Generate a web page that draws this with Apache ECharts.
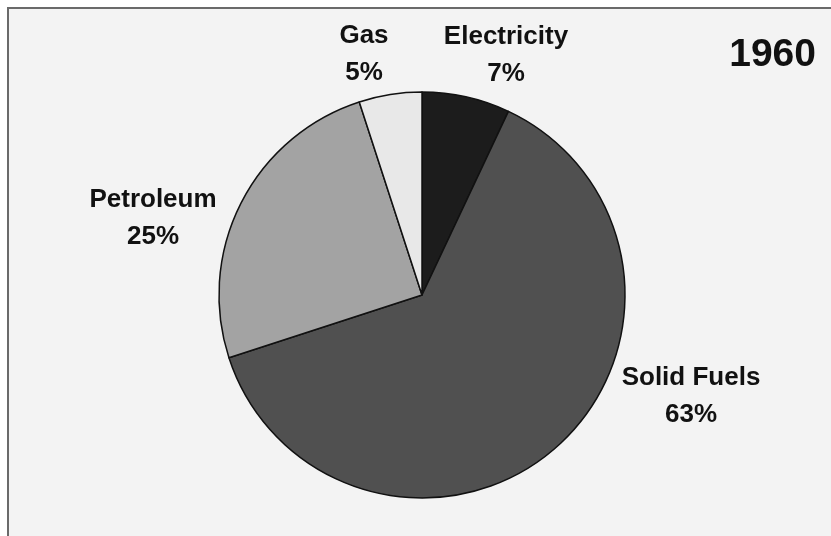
<!DOCTYPE html>
<html>
<head>
<meta charset="utf-8">
<script src="https://cdn.jsdelivr.net/npm/echarts@6/dist/echarts.min.js"></script>
<style>
html,body{margin:0;padding:0;background:#ffffff;}
#chart{width:831px;height:536px;}
</style>
</head>
<body>
<div id="chart"></div>
<script>
// Data
var categories = ['Electricity', 'Solid Fuels', 'Petroleum', 'Gas'];
var shares = [7, 63, 25, 5];
var yearLabel = '1960';

var sliceColors = ['#1c1c1c', '#505050', '#a3a3a3', '#e8e8e8'];
// label centres (pixels) for each category, in the same order
var labelCentres = [[506, 55], [691, 396], [153, 218], [364, 54]];

var chart = echarts.init(document.getElementById('chart'), null, {renderer: 'canvas'});
var font = '"Liberation Sans", Arial, Helvetica, sans-serif';

var option = {
  animation: false,
  backgroundColor: '#ffffff',
  graphic: [{
    type: 'rect',
    z: -10,
    silent: true,
    shape: {x: 8, y: 8, width: 900, height: 600},
    style: {fill: '#f3f3f3', stroke: '#6a6a6a', lineWidth: 2}
  }],
  title: {
    text: yearLabel,
    right: 10,
    top: 31,
    textStyle: {fontFamily: font, fontSize: 39, fontWeight: 'bold', color: '#111111'}
  },
  series: [{
    type: 'pie',
    center: [422, 295],
    radius: 203,
    startAngle: 90,
    clockwise: true,
    avoidLabelOverlap: false,
    emphasis: {disabled: true},
    itemStyle: {borderColor: '#111111', borderWidth: 1.5},
    label: {
      show: true,
      position: 'outside',
      formatter: '{b}\n{c}%',
      fontFamily: font,
      fontSize: 26,
      fontWeight: 'bold',
      lineHeight: 37,
      color: '#111111'
    },
    labelLine: {show: false},
    labelLayout: function (p) {
      var c = labelCentres[p.dataIndex];
      return {x: c[0], y: c[1], align: 'center', verticalAlign: 'middle'};
    },
    data: categories.map(function (name, i) {
      return {name: name, value: shares[i], itemStyle: {color: sliceColors[i]}};
    })
  }]
};
chart.setOption(option);
</script>
</body>
</html>
